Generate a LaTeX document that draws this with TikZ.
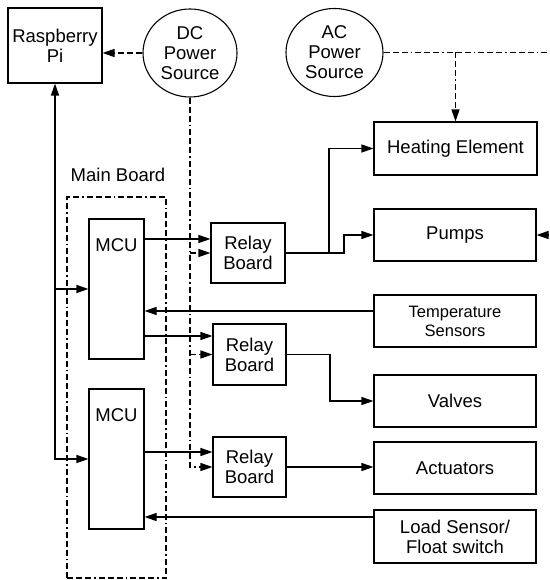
\documentclass[tikz,border=0pt]{standalone}
\usepackage{fontspec}
\setmainfont{Liberation Sans}
\usetikzlibrary{arrows.meta,shapes.geometric}
\begin{document}
\begin{tikzpicture}[x=1pt,y=-1pt,
  every node/.style={font=\fontsize{18.5}{20}\selectfont, text=black},
  box/.style={draw, line width=1.1pt, inner sep=0pt, align=center},
  pwr/.style={draw, ellipse, line width=1.1pt, inner sep=0pt, align=center},
  ln/.style={line width=1.1pt},
  arr/.style={-{Triangle[length=12pt,width=8pt]}},
  dd/.style={line width=1.25pt, dash pattern=on 6pt off 3pt on 6pt off 3pt on 6pt off 3pt on 1.5pt off 3pt},
]
\useasboundingbox (0,0) rectangle (549,580);
% nodes
\node[box, minimum width=94pt, minimum height=75pt] (rpi) at (55,45.5) {Raspberry\\Pi};
\node[pwr, minimum width=94pt, minimum height=88pt] (dc) at (190,53) {DC\\Power\\Source};
\node[pwr, minimum width=97pt, minimum height=88pt] (ac) at (334.5,52.5) {AC\\Power\\Source};
\node[box, minimum width=163pt, minimum height=53pt] (heat) at (455.5,148.5) {Heating Element};
\node[box, minimum width=162pt, minimum height=52pt] (pumps) at (455,235) {Pumps};
\node[box, minimum width=162pt, minimum height=52pt, font=\fontsize{16.5}{19}\selectfont] (temp) at (455,321) {Temperature\\Sensors};
\node[box, minimum width=162pt, minimum height=52pt] (valves) at (455,401) {Valves};
\node[box, minimum width=162pt, minimum height=52pt] (act) at (455,468) {Actuators};
\node[box, minimum width=162pt, minimum height=53pt] (load) at (455,536.5) {Load Sensor/\\Float switch};
\node[draw, dd, minimum width=99pt, minimum height=381pt, inner sep=0pt] (mb) at (116.5,387.5) {};
\node (mbl) at (118,175) {Main Board};
\node[box, minimum width=55pt, minimum height=140pt, label={[anchor=center, yshift=-27pt]north:MCU}] (mcu1) at (116.5,289) {};
\node[box, minimum width=55pt, minimum height=140pt, label={[anchor=center, yshift=-27pt]north:MCU}] (mcu2) at (116.5,459) {};
\node[box, minimum width=74pt, minimum height=60pt] (rb1) at (248,253) {Relay\\Board};
\node[box, minimum width=73pt, minimum height=61pt] (rb2) at (249.5,354.5) {Relay\\Board};
\node[box, minimum width=73pt, minimum height=60pt] (rb3) at (249.5,467) {Relay\\Board};
% coordinates
\coordinate (acend) at (549,52.5);
\coordinate (pin) at (549,235);
\coordinate (r1in) at ([yshift=14pt]rb1.west);
\coordinate (r2in) at ([yshift=18.5pt]rb2.west);
\coordinate (r3in) at ([yshift=15pt]rb3.west);
\coordinate (t1) at ([yshift=10pt]temp.west);
\coordinate (l1) at ([yshift=19.5pt]load.west);
\coordinate (j1) at (329,0);
\coordinate (j2) at (344,0);
\coordinate (j3) at (330,0);
% power
\draw[dd, arr] (dc.west) -- (dc.west -| rpi.east);
\draw[dd] (ac.east) -- (acend);
\draw[dd, arr] (ac.east -| heat.north) -- (heat.north);
\draw[ln, arr] (pin) -- (pumps.east);
\draw[dd, arr] (dc.south) |- (rb3.west);
\draw[dd, arr] (dc.south |- rb1.west) -- (rb1.west);
\draw[dd, arr] (dc.south |- rb2.west) -- (rb2.west);
% signals
\draw[ln, arr] (r1in -| mcu1.east) -- (r1in);
\draw[ln, arr] (r2in -| mcu1.east) -- (r2in);
\draw[ln, arr] (r3in -| mcu2.east) -- (r3in);
\draw[ln, arr] (t1) -- (t1 -| mcu1.east);
\draw[ln, arr] (l1) -- (l1 -| mcu2.east);
\draw[ln, arr] (rb3.east) -- (rb3.east -| act.west);
\draw[ln, arr] (rb1.east) -| (j1 |- heat.west) -- (heat.west);
\draw[ln, arr] (rb1.east) -| (j2 |- pumps.west) -- (pumps.west);
\draw[ln, arr] (rb2.east) -| (j3 |- valves.west) -- (valves.west);
\draw[ln, {Triangle[length=12pt,width=8pt]}-{Triangle[length=12pt,width=8pt]}] (rpi.south) |- (mcu2.west);
\draw[ln, arr] (rpi.south |- mcu1.west) -- (mcu1.west);
\end{tikzpicture}
\end{document}
